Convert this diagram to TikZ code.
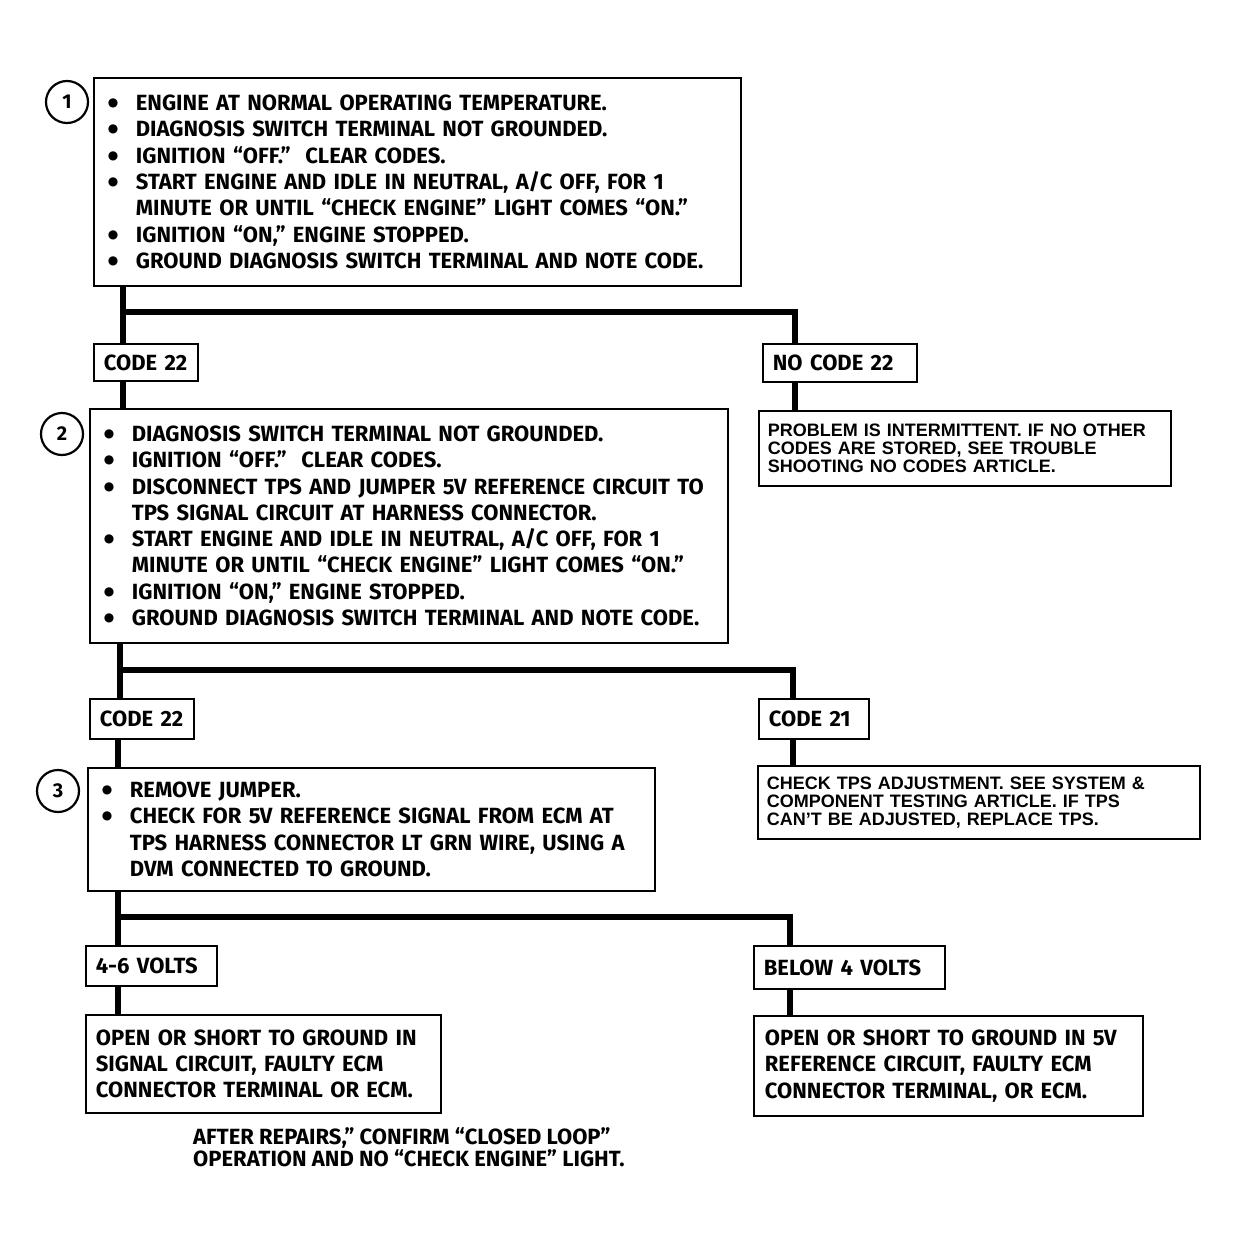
\documentclass[tikz,border=0pt]{standalone}
\usepackage{fontspec}
\setmainfont{Fira Sans}
\newfontfamily\notefamily{Liberation Sans}
\newfontfamily\dotfamily{DejaVu Sans}
\newcommand{\stepfont}{\fontsize{22}{26.3}\selectfont\bfseries}
\newcommand{\notefont}{\notefamily\fontsize{18}{18.2}\selectfont\bfseries}
\newcommand{\footfont}{\fontsize{22}{22.5}\selectfont\bfseries}
\newcommand{\bul}{\makebox[28pt][l]{\raisebox{4pt}{\dotfamily\fontsize{12}{12}\selectfont ●}}}
\newcommand{\ind}{\hspace*{28pt}}

\begin{document}
\begin{tikzpicture}[x=1pt,y=-1pt,
  stepbox/.style={draw,line width=1.8,anchor=north west,align=left,
                  inner xsep=14,inner ysep=0,font=\stepfont},
  tag/.style={draw,line width=1.8,anchor=north west,align=left,
              inner xsep=10,inner ysep=0,font=\stepfont},
  note/.style={draw,line width=1.8,anchor=north west,align=left,
               inner xsep=9,inner ysep=0,font=\notefont},
  num/.style={draw,circle,line width=2.2,minimum size=42,inner sep=0,
              font=\fontsize{20}{20}\selectfont\bfseries},
  wire/.style={line width=6}
]
\useasboundingbox (0,0) rectangle (1239,1242);

\node[num] (n1) at (67,102) {1};
\node[stepbox,text width=619,minimum height=208] (s1) at (93,77)
  {\bul ENGINE AT NORMAL OPERATING TEMPERATURE.\\
   \bul DIAGNOSIS SWITCH TERMINAL NOT GROUNDED.\\
   \bul IGNITION “OFF.”\ \ CLEAR CODES.\\
   \bul START ENGINE AND IDLE IN NEUTRAL, A/C OFF, FOR 1\\
   \ind MINUTE OR UNTIL “CHECK ENGINE” LIGHT COMES “ON.”\\
   \bul IGNITION “ON,” ENGINE STOPPED.\\
   \bul GROUND DIAGNOSIS SWITCH TERMINAL AND NOTE CODE.};
\node[tag,text width=84,minimum height=37]  (c1) at (93,343)  {CODE 22};
\node[tag,text width=134,minimum height=38] (nc) at (762,343) {NO CODE 22};
\node[note,text width=394,minimum height=75] (p1) at (758,410)
  {PROBLEM IS INTERMITTENT. IF NO OTHER\\
   CODES ARE STORED, SEE TROUBLE\\
   SHOOTING NO CODES ARTICLE.};

\node[num] (n2) at (62,434) {2};
\node[stepbox,text width=610,minimum height=234] (s2) at (89,408)
  {\bul DIAGNOSIS SWITCH TERMINAL NOT GROUNDED.\\
   \bul IGNITION “OFF.”\ \ CLEAR CODES.\\
   \bul DISCONNECT TPS AND JUMPER 5V REFERENCE CIRCUIT TO\\
   \ind TPS SIGNAL CIRCUIT AT HARNESS CONNECTOR.\\
   \bul START ENGINE AND IDLE IN NEUTRAL, A/C OFF, FOR 1\\
   \ind MINUTE OR UNTIL “CHECK ENGINE” LIGHT COMES “ON.”\\
   \bul IGNITION “ON,” ENGINE STOPPED.\\
   \bul GROUND DIAGNOSIS SWITCH TERMINAL AND NOTE CODE.};
\node[tag,text width=84,minimum height=40] (c2) at (89,698)  {CODE 22};
\node[tag,text width=90,minimum height=40] (c3) at (758,698) {CODE 21};
\node[note,text width=424,minimum height=73] (k1) at (757,765)
  {CHECK TPS ADJUSTMENT. SEE SYSTEM \&\\
   COMPONENT TESTING ARTICLE. IF TPS\\
   CAN’T BE ADJUSTED, REPLACE TPS.};

\node[num] (n3) at (58,791) {3};
\node[stepbox,text width=539,minimum height=123] (s3) at (87,767)
  {\bul REMOVE JUMPER.\\
   \bul CHECK FOR 5V REFERENCE SIGNAL FROM ECM AT\\
   \ind TPS HARNESS CONNECTOR LT GRN WIRE, USING A\\
   \ind DVM CONNECTED TO GROUND.};
\node[tag,text width=111,minimum height=40] (v1) at (85,945)  {4-6 VOLTS};
\node[tag,text width=171,minimum height=43] (v2) at (753,945) {BELOW 4 VOLTS};
\node[tag,text width=335,minimum height=98] (o1) at (85,1014)
  {OPEN OR SHORT TO GROUND IN\\
   SIGNAL CIRCUIT, FAULTY ECM\\
   CONNECTOR TERMINAL OR ECM.};
\node[tag,text width=367,minimum height=100,inner xsep=11] (o2) at (753,1015)
  {OPEN OR SHORT TO GROUND IN 5V\\
   REFERENCE CIRCUIT, FAULTY ECM\\
   CONNECTOR TERMINAL, OR ECM.};
\node[anchor=north west,align=left,inner sep=0,font=\footfont] (ft) at (193,1127)
  {AFTER REPAIRS,” CONFIRM “CLOSED LOOP”\\
   OPERATION AND NO “CHECK ENGINE” LIGHT.};

\coordinate (j1) at (123,312);
\coordinate (k1r) at (795,312);
\coordinate (j2) at (120,670);
\coordinate (k2r) at (793,670);
\coordinate (j3) at (118,917);
\coordinate (k3r) at (790,917);

\draw[wire] (s1.south -| j1) -- (c1.north -| j1);
\draw[wire] (j1) -- (k1r) -- (k1r |- nc.north);
\draw[wire] (nc.south -| k1r) -- (p1.north -| k1r);
\draw[wire] (c1.south -| j1) -- (s2.north -| j1);
\draw[wire] (s2.south -| j2) -- (c2.north -| j2);
\draw[wire] (j2) -- (k2r) -- (k2r |- c3.north);
\draw[wire] (c3.south -| k2r) -- (k1.north -| k2r);
\draw[wire] (c2.south -| j3) -- (s3.north -| j3);
\draw[wire] (s3.south -| j3) -- (v1.north -| j3);
\draw[wire] (j3) -- (k3r) -- (k3r |- v2.north);
\draw[wire] (v1.south -| j3) -- (o1.north -| j3);
\draw[wire] (v2.south -| k3r) -- (o2.north -| k3r);
\end{tikzpicture}
\end{document}
